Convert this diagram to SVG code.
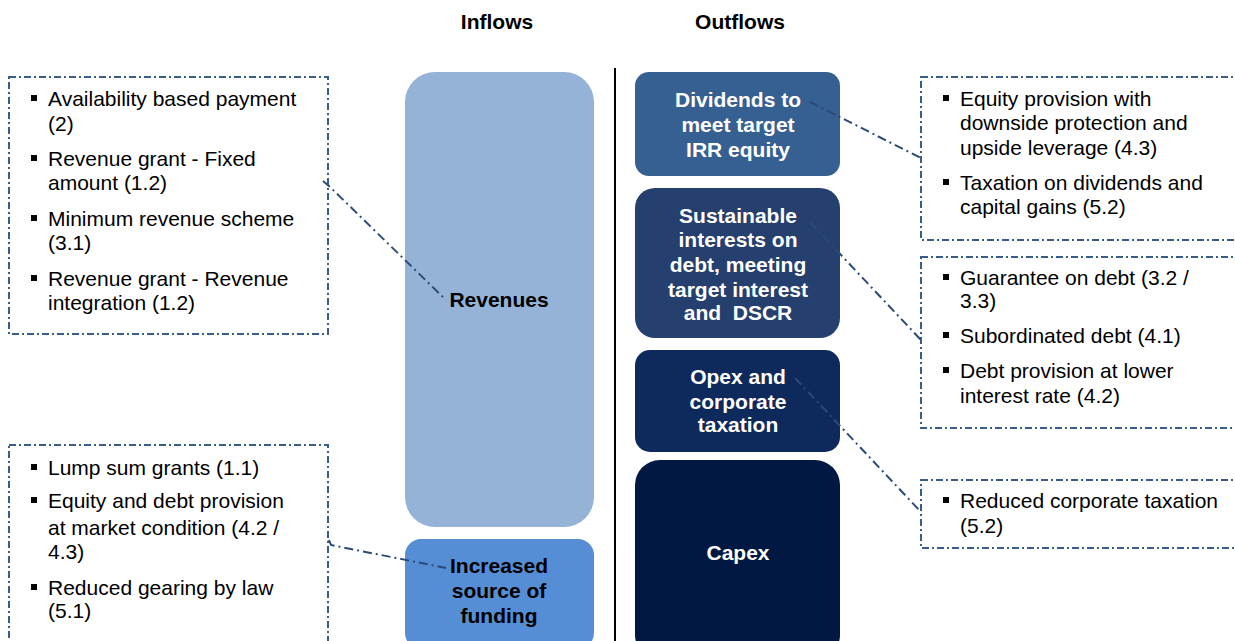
<svg xmlns="http://www.w3.org/2000/svg" width="1235" height="641" viewBox="0 0 1235 641">
<style>
.hdr{font-family:"Liberation Sans",Arial,sans-serif;font-weight:bold;font-size:21px;fill:#000;text-anchor:middle}
.nt{font-family:"Liberation Sans",Arial,sans-serif;font-weight:bold;font-size:21px;fill:#fff;text-anchor:middle}
.ntk{font-family:"Liberation Sans",Arial,sans-serif;font-weight:bold;font-size:21px;fill:#000;text-anchor:middle}
.bt{font-family:"Liberation Sans",Arial,sans-serif;font-size:21px;fill:#000}
.box{fill:none;stroke:#385D8A;stroke-width:2;stroke-dasharray:7 3 2 3}
.conn{fill:none;stroke:#2A4A78;stroke-width:2;stroke-dasharray:9 4 2 4}
</style>
<rect width="1235" height="641" fill="#fff"/>
<text class="hdr" x="497" y="29">Inflows</text>
<text class="hdr" x="740" y="29">Outflows</text>
<line x1="615" y1="68" x2="615" y2="641" stroke="#000" stroke-width="2"/>

<g id="revenues">
<rect x="405" y="72" width="189" height="455" rx="30" fill="#95B3D7"/>
<text class="ntk" x="499" y="307">Revenues</text>
</g>
<g id="funding">
<rect x="405" y="539" width="189" height="110" rx="16" fill="#558ED5"/>
<text class="ntk" x="499" y="573">Increased</text>
<text class="ntk" x="499" y="598">source of</text>
<text class="ntk" x="499" y="623">funding</text>
</g>

<g id="dividends">
<rect x="635" y="72" width="205" height="104" rx="14" fill="#376092"/>
<text class="nt" x="738" y="107">Dividends to</text>
<text class="nt" x="738" y="132">meet target</text>
<text class="nt" x="738" y="157">IRR equity</text>
</g>
<g id="interests">
<rect x="635" y="188" width="205" height="150" rx="20" fill="#25406E"/>
<text class="nt" x="738" y="223">Sustainable</text>
<text class="nt" x="738" y="247">interests on</text>
<text class="nt" x="738" y="272">debt, meeting</text>
<text class="nt" x="738" y="297">target interest</text>
<text class="nt" x="738" y="320" xml:space="preserve">and  DSCR</text>
</g>
<g id="opex">
<rect x="635" y="350" width="205" height="102" rx="15" fill="#0E2A5C"/>
<text class="nt" x="738" y="384">Opex and</text>
<text class="nt" x="738" y="409">corporate</text>
<text class="nt" x="738" y="432">taxation</text>
</g>
<g id="capex">
<rect x="635" y="460" width="205" height="200" rx="25" fill="#011842"/>
<text class="nt" x="738" y="560">Capex</text>
</g>

<g id="revenue-measures">
<rect class="box" x="9" y="77" width="319" height="257"/>
<rect x="31" y="95" width="6" height="6"/><text class="bt" x="48" y="106">Availability based payment</text>
<text class="bt" x="48" y="131">(2)</text>
<rect x="31" y="155" width="6" height="6"/><text class="bt" x="48" y="166">Revenue grant - Fixed</text>
<text class="bt" x="48" y="190">amount (1.2)</text>
<rect x="31" y="215" width="6" height="6"/><text class="bt" x="48" y="226">Minimum revenue scheme</text>
<text class="bt" x="48" y="250">(3.1)</text>
<rect x="31" y="275" width="6" height="6"/><text class="bt" x="48" y="286">Revenue grant - Revenue</text>
<text class="bt" x="48" y="310">integration (1.2)</text>
</g>

<g id="funding-measures">
<rect class="box" x="9" y="445" width="319" height="220"/>
<rect x="31" y="464" width="6" height="6"/><text class="bt" x="48" y="475">Lump sum grants (1.1)</text>
<rect x="31" y="497" width="6" height="6"/><text class="bt" x="48" y="508">Equity and debt provision</text>
<text class="bt" x="48" y="535">at market condition (4.2 /</text>
<text class="bt" x="48" y="559">4.3)</text>
<rect x="31" y="584" width="6" height="6"/><text class="bt" x="48" y="595">Reduced gearing by law</text>
<text class="bt" x="48" y="618">(5.1)</text>
</g>

<g id="equity-measures">
<rect class="box" x="921" y="77" width="330" height="163"/>
<rect x="943" y="95" width="6" height="6"/><text class="bt" x="960" y="106">Equity provision with</text>
<text class="bt" x="960" y="130">downside protection and</text>
<text class="bt" x="960" y="155">upside leverage (4.3)</text>
<rect x="943" y="179" width="6" height="6"/><text class="bt" x="960" y="190">Taxation on dividends and</text>
<text class="bt" x="960" y="214">capital gains (5.2)</text>
</g>

<g id="debt-measures">
<rect class="box" x="921" y="257" width="330" height="171"/>
<rect x="943" y="274" width="6" height="6"/><text class="bt" x="960" y="285">Guarantee on debt (3.2 /</text>
<text class="bt" x="960" y="308">3.3)</text>
<rect x="943" y="332" width="6" height="6"/><text class="bt" x="960" y="343">Subordinated debt (4.1)</text>
<rect x="943" y="367" width="6" height="6"/><text class="bt" x="960" y="378">Debt provision at lower</text>
<text class="bt" x="960" y="403">interest rate (4.2)</text>
</g>

<g id="tax-measures">
<rect class="box" x="921" y="480" width="330" height="68"/>
<rect x="943" y="497" width="6" height="6"/><text class="bt" x="960" y="508">Reduced corporate taxation</text>
<text class="bt" x="960" y="533">(5.2)</text>
</g>

<g id="connectors">
<polyline class="conn" points="323,181 330,187 446,300"/>
<polyline class="conn" points="329,540 331,545 446,568"/>
<polyline class="conn" points="810,102 921,158"/>
<polyline class="conn" points="810,222 921,340"/>
<polyline class="conn" points="795,378 921,512"/>
</g>
</svg>
